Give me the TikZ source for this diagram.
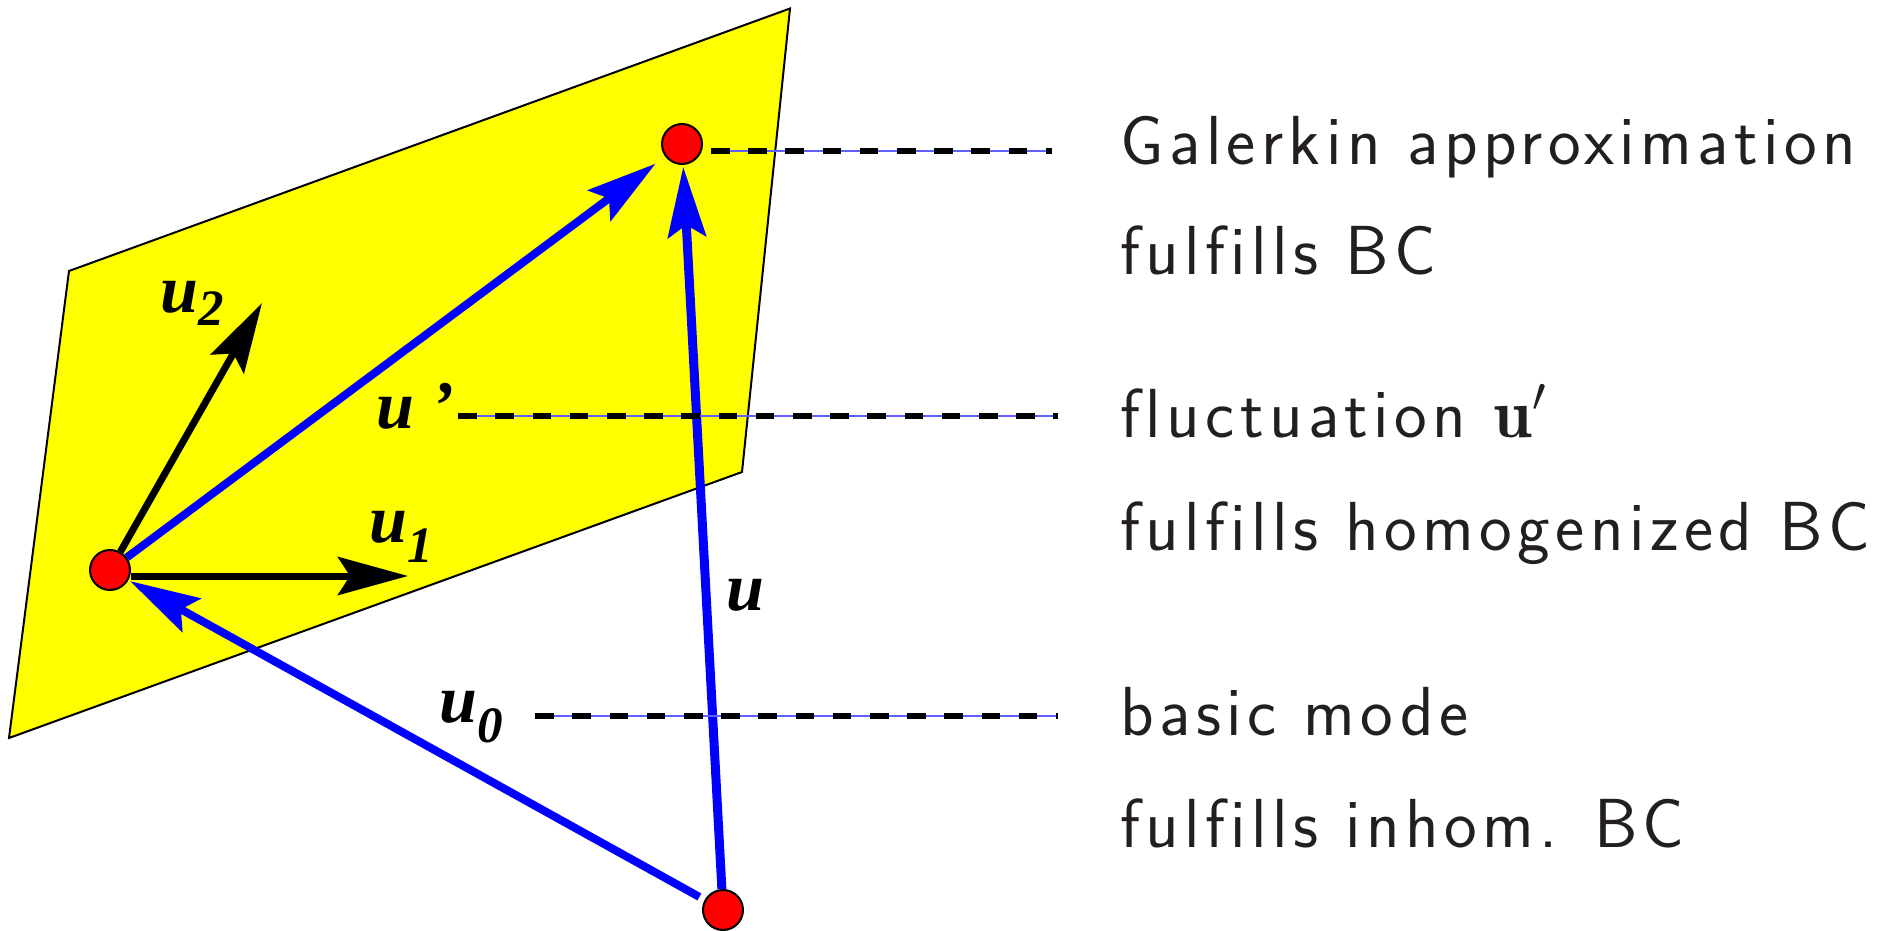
\documentclass[tikz,border=0pt]{standalone}
\usepackage{fix-cm}
\usepackage{fontspec}
\setsansfont{Latin Modern Sans}[Ligatures=NoCommon, LetterSpace=7.8]
\newfontfamily\vecfont{Liberation Serif}
\usetikzlibrary{arrows.meta}
\definecolor{notegray}{RGB}{35,31,32}
\definecolor{leaderblue}{RGB}{96,96,255}
\definecolor{planeyellow}{RGB}{255,255,0}
\definecolor{dotred}{RGB}{255,0,0}
\definecolor{vecblue}{RGB}{0,0,255}
\tikzstyle{plane}    = [draw=black, line width=1pt, fill=planeyellow]
\tikzstyle{dot}      = [circle, draw=black, line width=1pt, fill=dotred, minimum size=20pt, inner sep=0pt]
\tikzstyle{arrow}    = [-{Stealth[length=35pt, width=19pt, inset=6pt]}, line width=4pt, draw=vecblue]
\tikzstyle{basis}    = [-{Stealth[length=35pt, width=19pt, inset=6pt]}, line width=3.5pt, draw=black]
\tikzstyle{leader}   = [draw=black, line width=2.6pt, dash pattern=on 9.3pt off 9.3pt,
                        preaction={draw=leaderblue, line width=0.6pt, solid}]
\tikzstyle{veclabel} = [anchor=base west, inner sep=0pt, font=\vecfont\bfseries\itshape\fontsize{34}{38}\selectfont]
\tikzstyle{note}     = [anchor=base west, inner sep=0pt, text=notegray, font=\sffamily\fontsize{34.7}{40}\selectfont]
\newcommand{\vsub}[2][10pt]{\raisebox{-#1}{\fontsize{25.5}{27}\selectfont #2}}

\begin{document}
\begin{tikzpicture}[x=0.5pt, y=-0.5pt]
    \useasboundingbox (0,0) rectangle (1897,931);

    % the plane of admissible functions
    \draw[plane] (69,271) -- (790,8.5) -- (742,472) -- (9,738) -- cycle;

    \node (base) [dot] at (110,570) {};
    \node (galerkin) [dot] at (682,144) {};
    \node (origin) [dot] at (723,910) {};
    \coordinate (u1tip) at (408,576);
    \coordinate (u2tip) at (262,303);

    \draw[basis] ([yshift=-3pt]base.east) -- (u1tip);
    \draw[basis] (base) -- (u2tip);
    \draw[arrow, shorten >=6pt] (base) -- (galerkin);
    \draw[arrow, line width=4.5pt, shorten >=1pt] (origin) -- (galerkin);
    \draw[arrow, shorten >=1pt, shorten <=3pt] (origin) -- (base);

    \node (u2lab) [veclabel] at (160,312) {u\vsub[6.5pt]{2}};
    \node (u1lab) [veclabel] at (369,542) {u\vsub{1}};
    \node (uplab) [veclabel] at (376,428) {u ’};
    \node (ulab) [veclabel] at (726,610) {u};
    \node (u0lab) [veclabel] at (439,722) {u\vsub{0}};

    \node (galtext) [note] at (1120,164) {Galerkin approximation};
    \node (galbc) [note] at (1120,274) {fulfills BC};
    \node (fluct) [note] at (1120,437) {fluctuation $\mathbf{u}'$};
    \node (fluctbc) [note] at (1120,550) {fulfills homogenized BC};
    \node (basic) [note] at (1120,735) {basic mode};
    \node (basicbc) [note] at (1120,847) {fulfills inhom. BC};

    % leaders to the explanations
    \coordinate (galend) at (1052,151);
    \coordinate (upend) at (1058,416);
    \coordinate (u0end) at (1058,716);
    \draw[leader] ([xshift=4pt]galerkin.east |- galend) -- (galend);
    \draw[leader] ([xshift=2pt]uplab.east |- upend) -- (upend);
    \draw[leader] ([xshift=16pt]u0lab.east |- u0end) -- (u0end);
\end{tikzpicture}
\end{document}
